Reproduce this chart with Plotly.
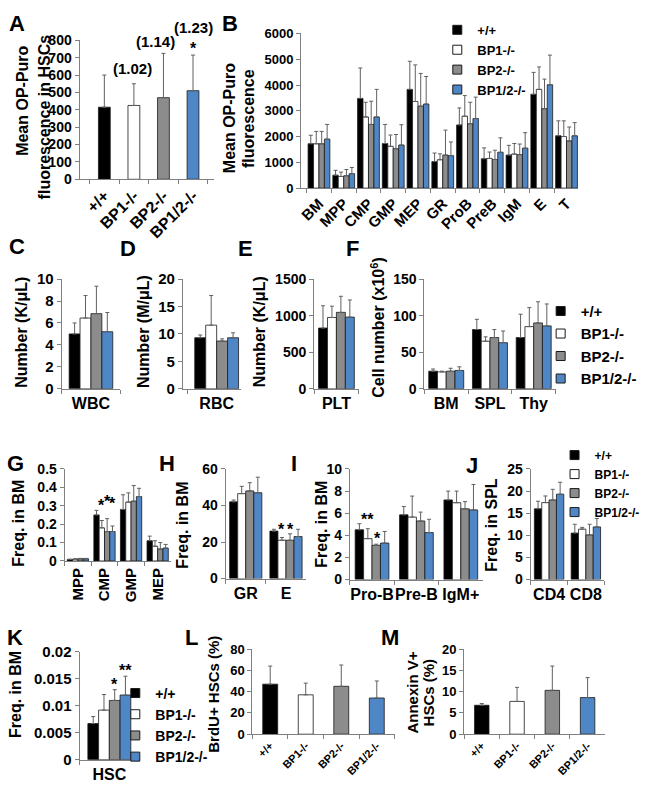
import plotly.graph_objects as go

W, H = 645, 797
FONT = "Liberation Sans, Arial, sans-serif"
GENOTYPES = ['+/+', 'BP1-/-', 'BP2-/-', 'BP1/2-/-']
COLORS = ['#000000', '#ffffff', '#8c8c8c', '#4f86c6']
OUTLINE = '#1a1a1a'
AXC = '#808080'
ERRC = '#606060'

# ---------------- data ----------------
A_VALS = [415, 425, 470, 510]
A_ERR = [185, 125, 255, 205]
A_RATIO = ['(1.02)', '(1.14)', '(1.23)']

B_CATS = ['BM', 'MPP', 'CMP', 'GMP', 'MEP', 'GR', 'ProB', 'PreB', 'IgM', 'E', 'T']
B_WT = [1720, 500, 3480, 1730, 3830, 1030, 2450, 1140, 1280, 3640, 2030]
B_WT_ERR = [330, 190, 1180, 740, 1090, 330, 660, 420, 380, 850, 580]
B_BP1 = [1720, 450, 2760, 1620, 3360, 1100, 2790, 1150, 1320, 3830, 2000]
B_BP1_ERR = [480, 170, 570, 440, 1420, 230, 800, 250, 410, 870, 610]
B_BP2 = [1720, 480, 2470, 1530, 3180, 1280, 2500, 1110, 1300, 3080, 1830]
B_BP2_ERR = [480, 240, 900, 550, 1270, 970, 830, 360, 410, 1150, 540]
B_DKO = [1900, 560, 2760, 1670, 3260, 1260, 2700, 1390, 1550, 4010, 2030]
B_DKO_ERR = [570, 240, 1070, 790, 1070, 530, 830, 560, 600, 1150, 510]

C_CATS = ['WBC']
C_VALS = [5.0, 6.45, 6.85, 5.2]
C_ERR = [1.0, 2.05, 2.5, 1.75]

D_CATS = ['RBC']
D_VALS = [9.3, 11.6, 8.7, 9.3]
D_ERR = [0.5, 5.4, 0.4, 0.9]

E_CATS = ['PLT']
E_VALS = [830, 975, 1045, 980]
E_ERR = [305, 155, 220, 235]

F_CATS = ['BM', 'SPL', 'Thy']
F_WT = [24, 81, 70]
F_WT_ERR = [3, 14, 32]
F_BP1 = [23, 65, 85]
F_BP1_ERR = [1, 6, 26]
F_BP2 = [24, 70, 90]
F_BP2_ERR = [4, 11, 29]
F_DKO = [25, 63, 86]
F_DKO_ERR = [5, 16, 30]

G_CATS = ['MPP', 'CMP', 'GMP', 'MEP']
G_WT = [0.008, 0.25, 0.28, 0.11]
G_WT_ERR = [0.002, 0.025, 0.08, 0.025]
G_BP1 = [0.010, 0.18, 0.32, 0.08]
G_BP1_ERR = [0.002, 0.04, 0.05, 0.03]
G_BP2 = [0.012, 0.16, 0.325, 0.065]
G_BP2_ERR = [0.002, 0.07, 0.085, 0.035]
G_DKO = [0.012, 0.16, 0.35, 0.07]
G_DKO_ERR = [0.002, 0.03, 0.045, 0.02]

H_CATS = ['GR', 'E']
H_WT = [42, 26]
H_WT_ERR = [1, 1]
H_BP1 = [46.5, 21]
H_BP1_ERR = [4, 1.5]
H_BP2 = [48, 21]
H_BP2_ERR = [4.5, 3.5]
H_DKO = [47, 23]
H_DKO_ERR = [8.5, 4]

I_CATS = ['Pro-B', 'Pre-B', 'IgM+']
I_WT = [4.5, 5.85, 7.2]
I_WT_ERR = [0.55, 0.75, 0.8]
I_BP1 = [3.7, 5.65, 6.95]
I_BP1_ERR = [0.9, 1.9, 1.05]
I_BP2 = [3.1, 5.3, 6.4]
I_BP2_ERR = [0.1, 0.8, 0.65]
I_DKO = [3.3, 4.25, 6.3]
I_DKO_ERR = [1.05, 1.2, 2.3]

J_CATS = ['CD4', 'CD8']
J_WT = [16, 10.5]
J_WT_ERR = [1.7, 2.0]
J_BP1 = [17.4, 11.4]
J_BP1_ERR = [1.5, 0.4]
J_BP2 = [18, 10.1]
J_BP2_ERR = [2.4, 2.4]
J_DKO = [19.3, 11.9]
J_DKO_ERR = [2.7, 1.9]

K_CATS = ['HSC']
K_VALS = [0.0067, 0.0092, 0.011, 0.012]
K_ERR = [0.0013, 0.0029, 0.002, 0.0035]

L_VALS = [47, 37, 45, 34]
L_ERR = [17, 11, 20, 16]

M_VALS = [6.8, 7.7, 10.3, 8.6]
M_ERR = [0.4, 3.3, 5.7, 4.7]

# ---------------- helpers ----------------
def px(x):
    return x / W


def py(y):
    return 1 - y / H


fig = go.Figure()
annotations = []


def sfx(n):
    return '' if n == 1 else str(n)


def axes(n, x0, x1, ytop, ybot, xr, yr, dtick, xfont=16, yfont=14,
         tickangle=0, ticklen=4):
    s = sfx(n)
    fig.update_layout(**{
        'xaxis' + s: dict(
            domain=[px(x0), px(x1)], anchor='y' + s, type='category',
            range=xr, showline=True, linecolor=AXC, linewidth=1,
            ticks='outside', ticklen=ticklen, tickcolor=AXC, tickson='boundaries',
            tickangle=tickangle, showgrid=False, zeroline=False,
            tickfont=dict(family=FONT, size=xfont, color='black', weight='bold'),
            fixedrange=True),
        'yaxis' + s: dict(
            domain=[py(ybot), py(ytop)], anchor='x' + s, range=yr, dtick=dtick,
            showline=True, linecolor=AXC, linewidth=1, ticks='outside',
            ticklen=4, tickcolor=AXC, showgrid=False, zeroline=False,
            tickfont=dict(family=FONT, size=yfont, color='black', weight='bold'),
            fixedrange=True),
    })


def err(arr):
    return dict(type='data', symmetric=False, array=arr, arrayminus=[0] * len(arr),
                color=ERRC, thickness=1, width=2)


def legend_keys(n, legend):
    # legend-only entries with small square keys
    s = sfx(n)
    for i in range(4):
        fig.add_trace(go.Scatter(
            x=[None], y=[None], mode='markers', name=GENOTYPES[i],
            marker=dict(symbol='square', size=9, color=COLORS[i],
                        line=dict(color=OUTLINE, width=1)),
            xaxis='x' + s, yaxis='y' + s, legend=legend, showlegend=True,
            hoverinfo='skip'))


def grouped(n, cats, series, errs, bw, legend=None):
    s = sfx(n)
    for i in range(4):
        fig.add_trace(go.Bar(
            x=cats, y=series[i], width=bw, offset=-2 * bw + i * bw,
            marker=dict(color=COLORS[i], line=dict(color=OUTLINE, width=0.8)),
            error_y=err(errs[i]), name=GENOTYPES[i],
            xaxis='x' + s, yaxis='y' + s, showlegend=False,
        ))
    if legend is not None:
        legend_keys(n, legend)


def single_group(n, cat, vals, errs, bw, legend=None):
    grouped(n, cat, [[v] for v in vals], [[e] for e in errs], bw, legend)


def per_genotype(n, vals, errs, bw):
    s = sfx(n)
    fig.add_trace(go.Bar(
        x=GENOTYPES, y=vals, width=bw, offset=-bw / 2,
        marker=dict(color=COLORS, line=dict(color=OUTLINE, width=0.8)),
        error_y=err(errs), xaxis='x' + s, yaxis='y' + s, showlegend=False))


def text(x, y, t, size=16, angle=0, xanchor='center', yanchor='middle'):
    annotations.append(dict(
        x=px(x), y=py(y), xref='paper', yref='paper', text=t, showarrow=False,
        textangle=angle, xanchor=xanchor, yanchor=yanchor,
        font=dict(family=FONT, size=size, color='black', weight='bold')))


def data_text(n, x, y, t, size=16):
    s = sfx(n)
    annotations.append(dict(
        x=x, y=y, xref='x' + s, yref='y' + s, text=t, showarrow=False,
        font=dict(family=FONT, size=size, color='black', weight='bold')))


# ---------------- panels ----------------
# A
axes(1, 77, 212, 32, 174, [-0.84, 3.7], [0, 800], 100, xfont=16, yfont=14, tickangle=-45)
per_genotype(1, A_VALS, A_ERR, 0.4)
text(130, 61, A_RATIO[0], 15)
text(153, 33, A_RATIO[1], 15)
text(192, 19, A_RATIO[2], 15)
text(192, 40, '*', 16)

# B
axes(2, 300, 579, 25, 183, [-0.72, 10.48], [0, 6000], 1000, xfont=15, yfont=13, tickangle=-45)
grouped(2, B_CATS, [B_WT, B_BP1, B_BP2, B_DKO],
        [B_WT_ERR, B_BP1_ERR, B_BP2_ERR, B_DKO_ERR], 0.22, legend='legend')

# C, D, E
axes(3, 59, 118, 276, 388, [-0.5, 0.5], [0, 10], 2, yfont=15)
single_group(3, C_CATS, C_VALS, C_ERR, 0.186)
axes(4, 181, 239, 276, 388, [-0.586, 0.414], [0, 20], 5, yfont=15)
single_group(4, D_CATS, D_VALS, D_ERR, 0.19)
axes(5, 313, 358, 276, 388, [-0.5, 0.5], [0, 1500], 500)
single_group(5, E_CATS, E_VALS, E_ERR, 0.2)

# F
axes(6, 424, 556, 276, 388, [-0.5, 2.5], [0, 150], 50)
grouped(6, F_CATS, [F_WT, F_BP1, F_BP2, F_DKO],
        [F_WT_ERR, F_BP1_ERR, F_BP2_ERR, F_DKO_ERR], 0.2, legend='legend2')

# G
axes(7, 62, 169, 470, 564, [-0.5, 3.5], [0, 0.5], 0.1, xfont=15, tickangle=-90)
grouped(7, G_CATS, [G_WT, G_BP1, G_BP2, G_DKO],
        [G_WT_ERR, G_BP1_ERR, G_BP2_ERR, G_DKO_ERR], 0.2)
data_text(7, 0.9, 0.30, '*', 16)
data_text(7, 1.1, 0.325, '*', 16)
data_text(7, 1.32, 0.31, '*', 16)

# H
axes(8, 224, 305, 470, 582, [-0.5, 1.5], [0, 60], 20)
grouped(8, H_CATS, [H_WT, H_BP1, H_BP2, H_DKO],
        [H_WT_ERR, H_BP1_ERR, H_BP2_ERR, H_DKO_ERR], 0.2)
data_text(8, 0.9, 27, '*', 16)
data_text(8, 1.1, 27, '*', 16)

# I
axes(9, 349, 483, 470, 583, [-0.5, 2.5], [0, 10], 2, xfont=16)
grouped(9, I_CATS, [I_WT, I_BP1, I_BP2, I_DKO],
        [I_WT_ERR, I_BP1_ERR, I_BP2_ERR, I_DKO_ERR], 0.19)
data_text(9, -0.1, 5.4, '**', 16)
data_text(9, 0.12, 3.75, '*', 16)

# J
axes(10, 531, 605, 470, 583, [-0.5, 1.5], [0, 25], 5)
grouped(10, J_CATS, [J_WT, J_BP1, J_BP2, J_DKO],
        [J_WT_ERR, J_BP1_ERR, J_BP2_ERR, J_DKO_ERR], 0.2, legend='legend3')

# K
axes(11, 77, 137, 657, 767, [-0.5, 0.5], [0, 0.02], 0.005, yfont=15)
single_group(11, K_CATS, K_VALS, K_ERR, 0.18, legend='legend4')
data_text(11, 0.09, 0.0140, '*', 16)
data_text(11, 0.27, 0.0165, '**', 16)

# L
axes(12, 251, 394, 654, 741, [-0.5, 3.5], [0, 80], 20, xfont=11, yfont=13, tickangle=-45)
per_genotype(12, L_VALS, L_ERR, 0.42)

# M
axes(13, 464, 606, 654, 741, [-0.5, 3.5], [0, 20], 5, xfont=11, yfont=13, tickangle=-45)
per_genotype(13, M_VALS, M_ERR, 0.41)

# ---------------- titles & letters ----------------
text(20, 94, 'Mean OP-Puro', 16, -90)
text(42, 110, 'fluorescence in HSCs', 16, -90)
text(228, 112, 'Mean OP-Puro', 16, -90)
text(247, 112, 'fluorescence', 16, -90)
text(19, 330, 'Number (K/μL)', 16, -90)
text(142, 330, 'Number (M/μL)', 16, -90)
text(259, 330, 'Number (K/μL)', 16, -90)
text(377, 325, 'Cell number (x10<sup>6</sup>)', 16, -90)
text(16, 525, 'Freq. in BM', 16, -90)
text(181, 527, 'Freq. in BM', 16, -90)
text(321, 527, 'Freq. in BM', 16, -90)
text(492, 527, 'Freq. in SPL', 16, -90)
text(12, 700, 'Freq. in BM', 16, -90)
text(211, 700, 'BrdU+ HSCs (%)', 15, -90)
text(412, 698, 'Annexin V+', 15, -90)
text(428, 698, 'HSCs (%)', 15, -90)

for letter, x, y in [('A', 4, 0), ('B', 218, 0), ('C', 4, 228), ('D', 116, 230),
                     ('E', 234, 230), ('F', 343, 230), ('G', 2, 450), ('H', 155, 450),
                     ('I', 288, 450), ('J', 464, 452), ('K', 2, 627), ('L', 181, 627),
                     ('M', 378, 627)]:
    text(x, y, letter, 22, 0, 'left', 'top')

LEG = dict(bgcolor='rgba(0,0,0,0)', borderwidth=0, itemwidth=30, tracegroupgap=0,
           xanchor='left', yanchor='top', itemclick=False, itemdoubleclick=False)


def legfont(size):
    return dict(family=FONT, size=size, color='black', weight='bold')


fig.update_layout(
    width=W, height=H, autosize=False,
    margin=dict(l=0, r=0, t=0, b=0, pad=0),
    paper_bgcolor='white', plot_bgcolor='rgba(0,0,0,0)',
    barmode='overlay', showlegend=True,
    annotations=annotations,
    legend=dict(LEG, x=px(437), y=py(6), font=legfont(13)),
    legend2=dict(LEG, x=px(541), y=py(292), font=legfont(15)),
    legend3=dict(LEG, x=px(555), y=py(441), font=legfont(12)),
    legend4=dict(LEG, x=px(113), y=py(683), font=legfont(14)),
)

fig.write_html("out.html", config={'displayModeBar': False},
               post_script="document.body.style.margin='0px';")
